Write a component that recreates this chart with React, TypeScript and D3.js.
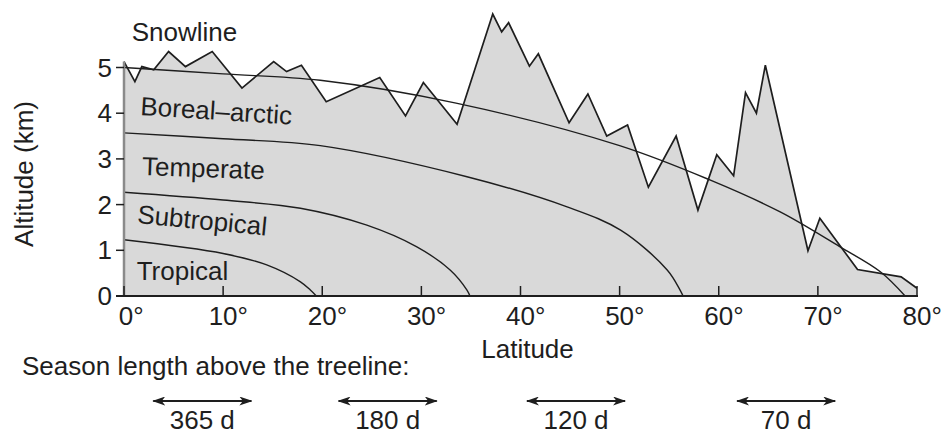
import React from "react";
import * as d3 from "d3";

// jagged snowline profile (latitude in degrees, altitude in km)
const peakLat = [0, 1.1, 1.8, 3.0, 4.5, 6.2, 8.9, 11.9, 15.1, 16.4, 17.9, 20.4, 25.8, 28.4, 30.2, 33.6, 37.2, 38.1, 38.8, 40.9, 41.8, 44.9, 46.8, 48.7, 50.8, 52.9, 55.7, 57.9, 59.8, 61.5, 62.7, 63.8, 64.7, 69.0, 70.2, 74.0, 78.4, 80];
const peakAlt = [5.13, 4.69, 5.02, 4.95, 5.35, 5.02, 5.35, 4.55, 5.13, 4.91, 5.05, 4.25, 4.78, 3.94, 4.67, 3.76, 6.17, 5.78, 5.98, 5.03, 5.3, 3.79, 4.42, 3.5, 3.74, 2.38, 3.5, 1.88, 3.09, 2.63, 4.45, 4.0, 5.05, 0.99, 1.7, 0.58, 0.42, 0.17];

// smooth zone boundaries
const snowLat = [0, 10, 19.8, 33.5, 50, 59.1, 66.2, 72.2, 76.3, 78.8];
const snowAlt = [5.0, 4.86, 4.72, 4.22, 3.29, 2.54, 1.84, 1.08, 0.53, 0];
const borealLat = [0, 10, 19.8, 34.6, 44.7, 50.1, 54.8, 56.1, 56.4];
const borealAlt = [3.57, 3.44, 3.29, 2.61, 1.95, 1.44, 0.57, 0.13, 0];
const temperateLat = [0, 10, 17.8, 24.5, 29.5, 32.9, 34.6, 34.9];
const temperateAlt = [2.27, 2.1, 1.92, 1.55, 1.08, 0.57, 0.13, 0];
const subtropLat = [0, 10, 14.4, 17.8, 18.8, 19.4];
const subtropAlt = [1.23, 0.93, 0.68, 0.31, 0.13, 0];

const xTicks = [0, 10, 20, 30, 40, 50, 60, 70, 80];
const yTicks = [0, 1, 2, 3, 4, 5];

const seasonLat = [7.9, 26.6, 45.6, 66.8];
const seasonLabels = ["365 d", "180 d", "120 d", "70 d"];

const font = "'Liberation Sans', Arial, sans-serif";
const ink = "#1e1e1e";

const App = () => {
  const width = 944;
  const height = 437;

  const x = d3.scaleLinear().domain([0, 80]).range([124, 917]);
  const y = d3.scaleLinear().domain([0, 5]).range([296, 67.5]);

  const peaks = peakLat.map((d, i) => [d, peakAlt[i]] as [number, number]);
  const area = d3
    .area<[number, number]>()
    .x((d) => x(d[0]))
    .y0(y(0))
    .y1((d) => y(d[1]));
  const jag = d3
    .line<[number, number]>()
    .x((d) => x(d[0]))
    .y((d) => y(d[1]));
  const smooth = d3
    .line<[number, number]>()
    .x((d) => x(d[0]))
    .y((d) => y(d[1]))
    .curve(d3.curveCatmullRom.alpha(0.5));

  const curves = [
    [snowLat, snowAlt],
    [borealLat, borealAlt],
    [temperateLat, temperateAlt],
    [subtropLat, subtropAlt],
  ].map(([la, al]) => la.map((d, i) => [d, al[i]] as [number, number]));

  const halfArrow = 4.95;
  const arrowY = 401;

  return (
    <div style={{ position: "absolute", left: 0, top: 0 }}>
      <svg width={width} height={height} style={{ display: "block", background: "#fff" }}>
        <defs>
          <marker id="head" viewBox="0 0 13 9" refX="12" refY="4.5" markerWidth="13" markerHeight="9" markerUnits="userSpaceOnUse" orient="auto-start-reverse">
            <path d="M0,0 L13,4.5 L0,9 L3.5,4.5 Z" fill={ink} />
          </marker>
        </defs>

        <path d={area(peaks) || ""} fill="#d9d9d9" />
        <path d={jag(peaks) || ""} fill="none" stroke={ink} strokeWidth={1.7} strokeLinejoin="miter" />
        {curves.map((c, i) => (
          <path key={i} d={smooth(c) || ""} fill="none" stroke={ink} strokeWidth={1.4} />
        ))}

        {/* y axis */}
        <line x1={x(0)} x2={x(0)} y1={y(0)} y2={y(peakAlt[0])} stroke="#8a8a8a" strokeWidth={2.5} />
        {yTicks.map((t) => (
          <g key={t}>
            <line x1={116} x2={x(0)} y1={y(t)} y2={y(t)} stroke={ink} strokeWidth={1.5} />
            <text x={112} y={y(t)} dy="0.35em" textAnchor="end" fontFamily={font} fontSize={26} fill={ink}>
              {t}
            </text>
          </g>
        ))}

        {/* x axis */}
        <line x1={116} x2={x(80) + 1} y1={y(0)} y2={y(0)} stroke={ink} strokeWidth={2} />
        {xTicks.map((t) => {
          const digitsW = String(t).length * 14.46;
          return (
            <g key={t}>
              <line x1={x(t)} x2={x(t)} y1={y(0)} y2={y(0) - 10} stroke={ink} strokeWidth={1.5} />
              <text x={x(t) - digitsW / 2 + (t === 0 ? 2 : 0)} y={325} fontFamily={font} fontSize={26} fill={ink}>
                {t}°
              </text>
            </g>
          );
        })}

        {/* labels */}
        <text x={131.7} y={41} fontFamily={font} fontSize={26} fill={ink}>Snowline</text>
        <text transform="translate(140,115) rotate(3.6)" fontFamily={font} fontSize={26} fill={ink}>Boreal–arctic</text>
        <text transform="translate(141.7,175) rotate(2)" fontFamily={font} fontSize={26} fill={ink}>Temperate</text>
        <text transform="translate(136.7,223) rotate(5.5)" fontFamily={font} fontSize={26} fill={ink}>Subtropical</text>
        <text x={136.7} y={279.5} fontFamily={font} fontSize={26} fill={ink}>Tropical</text>

        <text transform="translate(33,174) rotate(-90)" textAnchor="middle" fontFamily={font} fontSize={26} fill={ink}>
          Altitude (km)
        </text>
        <text x={527.5} y={358} textAnchor="middle" fontFamily={font} fontSize={26} fill={ink}>Latitude</text>
        <text x={22} y={375} fontFamily={font} fontSize={26} fill={ink}>Season length above the treeline:</text>

        {seasonLat.map((c, i) => (
          <g key={i}>
            <line
              x1={x(c - halfArrow)}
              x2={x(c + halfArrow)}
              y1={arrowY}
              y2={arrowY}
              stroke={ink}
              strokeWidth={2}
              markerStart="url(#head)"
              markerEnd="url(#head)"
            />
            <text x={x(c)} y={429} textAnchor="middle" fontFamily={font} fontSize={26} fill={ink}>
              {seasonLabels[i]}
            </text>
          </g>
        ))}
      </svg>
    </div>
  );
};

export default App;
